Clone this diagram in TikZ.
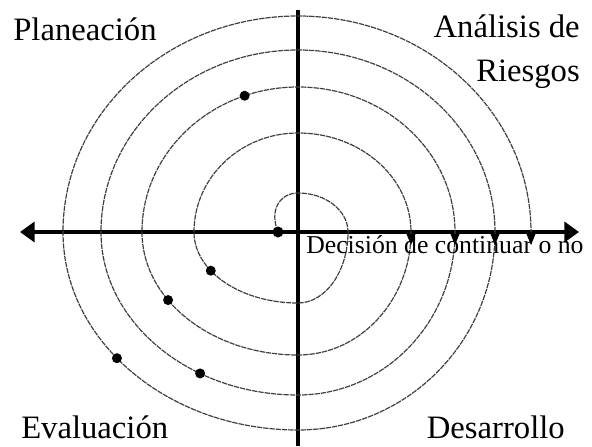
\documentclass[tikz,border=0pt]{standalone}
\usepackage{fontspec}
\setmainfont{Liberation Serif}
\usetikzlibrary{arrows.meta}

\begin{document}
\begin{tikzpicture}[x=0.75pt, y=0.75pt,
    axis/.style={line width=2.8pt, {Triangle[length=11pt,width=15pt]}-{Triangle[length=11pt,width=15pt]}},
    spiral/.style={line width=0.9pt, black!75, dash pattern=on 4pt off 0.7pt},
    lbl/.style={inner sep=0pt, font=\fontsize{24.5}{33}\selectfont},
    dot/.style={fill=black}]
\useasboundingbox (-298,-214) rectangle (294,232);

% Axes
\draw[axis] (-278,0) -- (281,0);
\draw[line width=2.6pt] (0,222) -- (0,-214);

% Spiral, one quarter of an ellipse per quadrant
\draw[spiral] (-20,0) .. controls (-29,22) and (-18,39) .. (0,39)
    \foreach \s/\rx/\ry in {90/50/39, 0/50/71, 270/104/71, 180/104/99,
        90/113/99, 0/113/123, 270/156/123, 180/156/145,
        90/157/145, 0/157/163, 270/197/163, 180/197/182,
        90/197/182, 0/197/198, 270/235/198, 180/235/216, 90/233/216} {
      arc[start angle=\s, delta angle=-90, x radius=\rx, y radius=\ry]
    };

% Arrows where the spiral meets the axis
\foreach \x in {113, 157, 197, 233} {
    \fill (\x-4.5,-2) -- (\x+4.5,-2) -- (\x,-13) -- cycle;
}

% Dots
\fill[dot] (-20,0) circle (5.5);
\foreach \t/\rx/\ry in {110/156/145, 213/104/71, 213.6/156/123, 219.6/235/198, 240.2/197/163} {
    \fill[dot] ({\rx*cos(\t)},{\ry*sin(\t)}) circle (5);
}

% Quadrant labels
\node[lbl, anchor=base west] (plan) at (-285,191) {Planeación};
\node[lbl, anchor=base east] (anal) at (282,194) {Análisis de};
\node[lbl, anchor=base east] (ries) at (282,150) {Riesgos};
\node[lbl, anchor=base west] (eval) at (-277,-206) {Evaluación};
\node[lbl, anchor=base east] (desa) at (267,-206) {Desarrollo};

% Axis label
\node[inner sep=0pt, anchor=base west, font=\fontsize{19.3}{22}\selectfont] (deci) at (8,-21) {Decisión de continuar o no};
\end{tikzpicture}
\end{document}
